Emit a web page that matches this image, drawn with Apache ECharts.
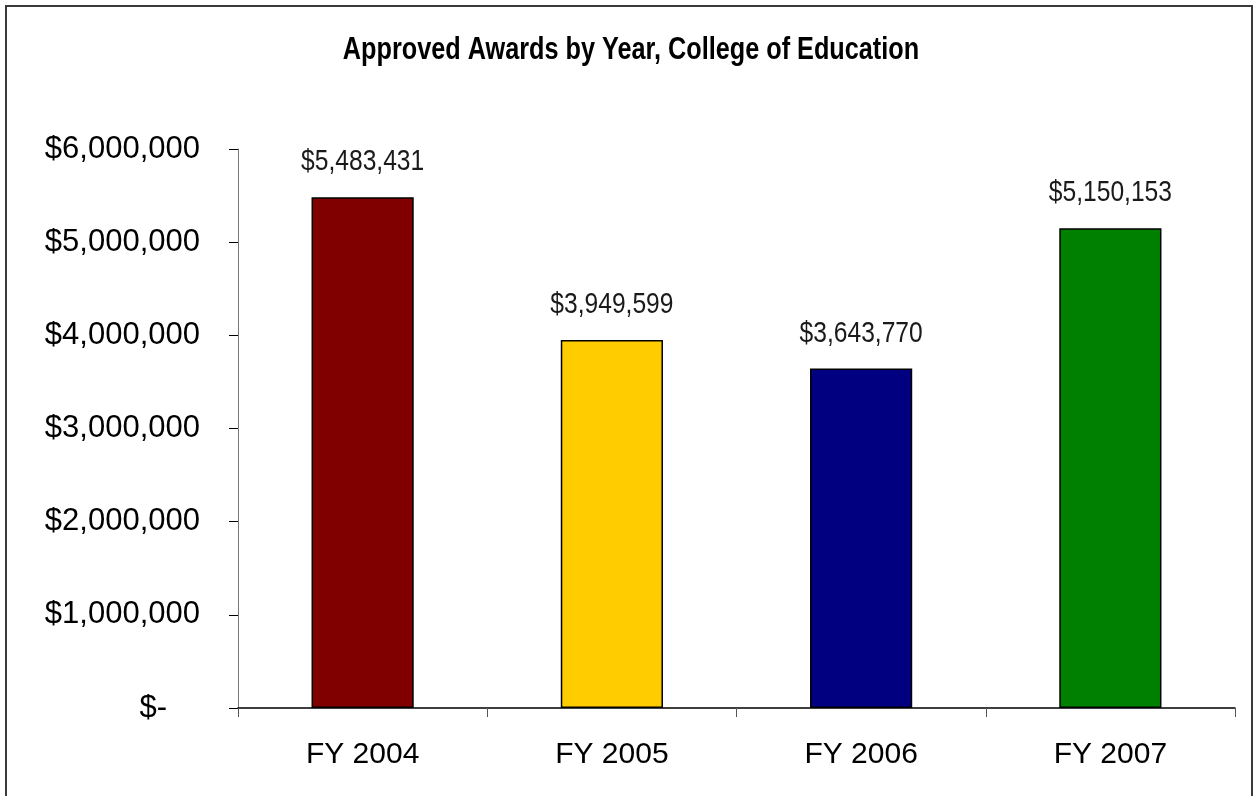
<!DOCTYPE html>
<html>
<head>
<meta charset="utf-8">
<script src="https://cdn.jsdelivr.net/npm/echarts@6/dist/echarts.min.js"></script>
<style>
html,body{margin:0;padding:0;background:#fff;}
#chart{width:1254px;height:796px;}
</style>
</head>
<body>
<div id="chart"></div>
<script>
var categories = ['FY 2004', 'FY 2005', 'FY 2006', 'FY 2007'];
var awardValues = [5483431, 3949599, 3643770, 5150153];
var barColors = ['#800000', '#FFCC00', '#000080', '#008000'];
var yTicks = [0, 1000000, 2000000, 3000000, 4000000, 5000000, 6000000];
var titleText = 'Approved Awards by Year, College of Education';

function money(v) {
  return '$' + Math.round(v).toString().replace(/\B(?=(\d{3})+(?!\d))/g, ',');
}

var NARROW = 0.82; // emulate Arial Narrow by horizontal scaling

var chart = echarts.init(document.getElementById('chart'), null, {renderer: 'canvas'});
chart.setOption({
  animation: false,
  backgroundColor: '#ffffff',
  graphic: [{
    type: 'rect',
    shape: {x: 6, y: 6, width: 1246, height: 820},
    style: {fill: 'none', stroke: '#3a3a3a', lineWidth: 2},
    silent: true
  }, {
    type: 'text',
    x: 631,
    y: 51,
    scaleX: NARROW,
    silent: true,
    style: {
      text: titleText,
      font: 'bold 30.8px "Liberation Sans", Arial, sans-serif',
      fill: '#000',
      textAlign: 'center',
      textVerticalAlign: 'middle'
    }
  }],
  grid: {left: 238, right: 19, top: 149, bottom: 88, containLabel: false},
  xAxis: {
    type: 'category',
    data: categories,
    axisLine: {lineStyle: {color: '#000', width: 1.5}},
    axisTick: {show: true, length: 9, lineStyle: {color: '#555'}},
    axisLabel: {
      fontFamily: '"Liberation Sans", Arial, sans-serif',
      fontSize: 30,
      color: '#000',
      margin: 32
    },
    splitLine: {show: false}
  },
  yAxis: {
    type: 'value',
    min: yTicks[0],
    max: yTicks[yTicks.length - 1],
    interval: 1000000,
    axisLine: {show: true, lineStyle: {color: '#777', width: 1}},
    axisTick: {show: true, length: 9, lineStyle: {color: '#000'}},
    splitLine: {show: false},
    axisLabel: {
      fontFamily: '"Liberation Sans", Arial, sans-serif',
      fontSize: 31,
      color: '#000',
      margin: 38,
      formatter: function (v) {
        if (v === 0) return '{z|$-}';
        return money(v);
      },
      rich: {
        z: {
          fontFamily: '"Liberation Sans", Arial, sans-serif',
          fontSize: 31,
          color: '#000',
          padding: [0, 33, 0, 0]
        }
      }
    }
  },
  series: [{
    type: 'bar',
    data: awardValues.map(function (v, i) {
      return {value: v, itemStyle: {color: barColors[i]}};
    }),
    barCategoryGap: '59%',
    itemStyle: {borderColor: '#000', borderWidth: 1.5}
  }, {
    type: 'custom',
    silent: true,
    z: 5,
    data: awardValues.map(function (v, i) { return [i, v]; }),
    renderItem: function (params, api) {
      var pt = api.coord([api.value(0), api.value(1)]);
      return {
        type: 'text',
        x: pt[0],
        y: pt[1] - 20,
        scaleX: NARROW,
        style: {
          text: money(api.value(1)),
          font: '30px "Liberation Sans", Arial, sans-serif',
          fill: '#1a1a1a',
          textAlign: 'center',
          textVerticalAlign: 'bottom'
        }
      };
    }
  }]
});
</script>
</body>
</html>
